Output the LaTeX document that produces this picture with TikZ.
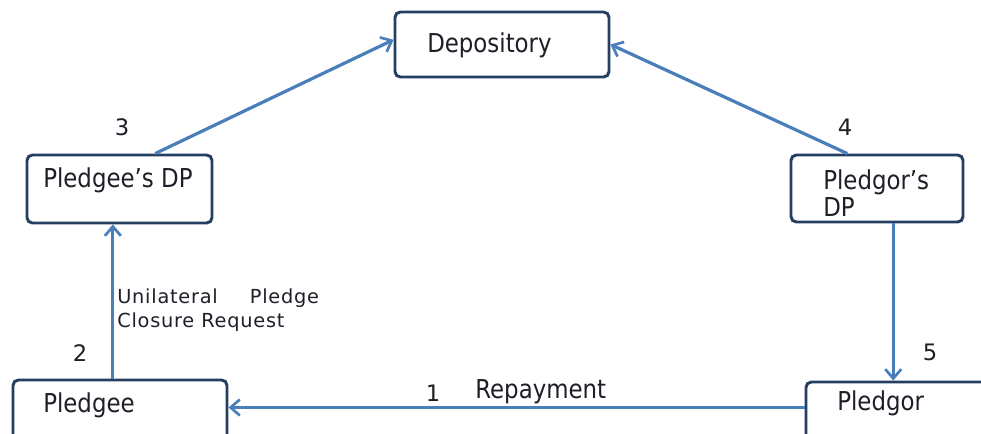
\documentclass[tikz,border=0pt]{standalone}
\usepackage{fontspec}
\setmainfont{DejaVu Sans}
\newfontfamily\boxfont[FakeStretch=0.88]{DejaVu Sans}
\newfontfamily\notefont[LetterSpace=4]{DejaVu Sans}
\usetikzlibrary{arrows.meta,calc,fit}
\definecolor{linkblue}{HTML}{4A7EBB}
\definecolor{boxnavy}{HTML}{243F60}
\definecolor{inkdark}{HTML}{1E1E28}
\begin{document}
\begin{tikzpicture}[x=0.75pt,y=-0.75pt,
 box/.style={draw=boxnavy,line width=2.2pt,rounded corners=4pt,fill=white,inner sep=0pt},
 link/.style={draw=linkblue,line width=2.4pt,-{Straight Barb[length=7pt,width=12pt,line width=2pt]}},
 lbl/.style={font=\boxfont\fontsize{19.5}{20}\selectfont,text=inkdark,inner sep=0pt,anchor=west,align=left},
 num/.style={font=\fontsize{17}{20}\selectfont,text=inkdark,inner sep=0pt},
 note/.style={font=\notefont\fontsize{14.5}{18}\selectfont,text=inkdark,inner sep=0pt,anchor=west,align=left}]
\useasboundingbox (0,0) rectangle (981,433);
% boxes
\node[box,fit={(395,12) (609,77)}] (dep) {};
\node[box,fit={(27,155) (212,223)}] (pdp) {};
\node[box,fit={(791,155) (963,222)}] (rdp) {};
\node[box,fit={(13,380) (227,450)}] (pee) {};
\node[box,fit={(806,382) (1000,450)}] (pgor) {};
% box texts
\node[lbl] (tdep) at (427,45) {Depository};
\node[lbl] (tpdp) at (43,180) {Pledgee’s DP};
\node[lbl] (trdp) at (823,193) {Pledgor’s\\DP};
\node[lbl] (tpee) at (43,405) {Pledgee};
\node[lbl] (tpgor) at (837,403) {Pledgor};
% connectors
\coordinate (s3) at ($(pdp.north west)!0.69!(pdp.north east)$);
\coordinate (e3) at ($(dep.north west)!0.43!(dep.south west)$);
\draw[link] (s3) -- (e3);
\coordinate (s4) at ($(rdp.north west)!0.33!(rdp.north east)$);
\coordinate (e4) at ($(dep.north east)!0.5!(dep.south east)$);
\draw[link] (s4) -- (e4);
\coordinate (s5) at ($(rdp.south west)!0.593!(rdp.south east)$);
\draw[link] (s5) -- (s5 |- pgor.north);
\coordinate (s2) at ($(pee.north west)!0.467!(pee.north east)$);
\draw[link] (s2) -- (s2 |- pdp.south);
\coordinate (s1) at ($(pgor.north west)!0.38!(pgor.south west)$);
\draw[link] (s1) -- (s1 -| pee.east);
% labels
\node[num] (n3) at (122,127) {3};
\node[num] (n4) at (845,127) {4};
\node[num] (n2) at (80,353) {2};
\node[num] (n5) at (930,352) {5};
\node[num] (n1) at (433,393) {1};
\node[lbl] (trep) at (475,392) {Repayment};
\node[note] (tnote) at (117,310) {Unilateral\hspace{24pt}Pledge\\Closure Request};
\end{tikzpicture}
\end{document}
